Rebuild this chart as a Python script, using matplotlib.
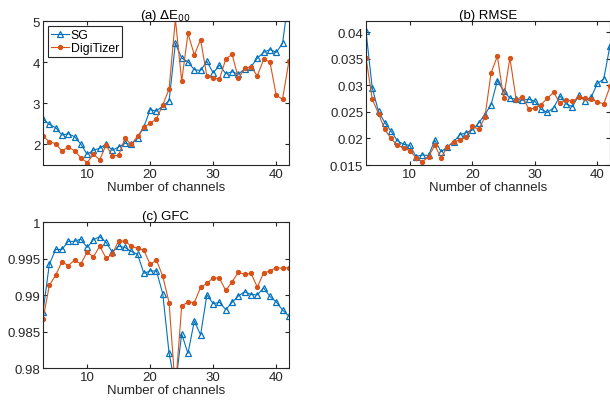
import numpy as np
import matplotlib
matplotlib.use("Agg")
import matplotlib.pyplot as plt

plt.rcParams["font.family"] = ["Liberation Sans", "DejaVu Sans"]
plt.rcParams["font.size"] = 9.5

channels = np.arange(3, 43)

# (a) Delta E00
de_sg = [2.62, 2.49, 2.41, 2.23, 2.26, 2.19, 2.01, 1.76, 1.86, 1.91,
         2.01, 1.86, 1.94, 2.03, 2.00, 2.15, 2.43, 2.85, 2.81, 2.94,
         3.06, 4.46, 4.10, 4.01, 3.82, 3.80, 4.02, 3.74, 3.93, 3.72,
         3.77, 3.71, 3.84, 3.89, 4.10, 4.24, 4.31, 4.24, 4.46, 5.6]
de_dig = [2.20, 2.07, 2.02, 1.84, 1.94, 1.85, 1.68, 1.56, 1.76, 1.63,
          1.99, 1.72, 1.74, 2.15, 2.00, 2.20, 2.42, 2.52, 2.62, 2.96,
          3.35, 5.05, 3.54, 4.70, 4.18, 4.55, 3.66, 3.62, 3.59, 4.08,
          4.19, 3.61, 3.85, 3.89, 3.67, 4.07, 4.01, 3.20, 3.10, 4.02]

# (b) RMSE
rmse_sg = [0.0402, 0.0295, 0.0251, 0.0230, 0.0214, 0.0196, 0.0189, 0.0187, 0.0166, 0.0169,
           0.0168, 0.0197, 0.0175, 0.0184, 0.0194, 0.0207, 0.0211, 0.0216, 0.0229, 0.0245,
           0.0264, 0.0309, 0.0289, 0.0276, 0.0274, 0.0272, 0.0274, 0.0270, 0.0255, 0.0249,
           0.0258, 0.0280, 0.0265, 0.0260, 0.0281, 0.0271, 0.0278, 0.0304, 0.0312, 0.0375]
rmse_dig = [0.0352, 0.0274, 0.0247, 0.0217, 0.0200, 0.0187, 0.0183, 0.0177, 0.0164, 0.0156,
            0.0166, 0.0187, 0.0164, 0.0184, 0.0194, 0.0197, 0.0203, 0.0223, 0.0217, 0.0240,
            0.0324, 0.0355, 0.0276, 0.0352, 0.0273, 0.0279, 0.0256, 0.0257, 0.0264, 0.0276,
            0.0287, 0.0266, 0.0273, 0.0270, 0.0278, 0.0276, 0.0274, 0.0269, 0.0265, 0.0298]

# (c) GFC
gfc_sg = [0.98767, 0.99420, 0.99624, 0.99624, 0.99735, 0.99735, 0.99767, 0.99652, 0.99758, 0.99800,
          0.99721, 0.99588, 0.99670, 0.99652, 0.99597, 0.99560, 0.99297, 0.99330, 0.99330, 0.99016,
          0.98205, 0.97750, 0.98468, 0.98200, 0.98643, 0.98454, 0.99002, 0.98882, 0.98900, 0.98800,
          0.98900, 0.98988, 0.99044, 0.99007, 0.99002, 0.99099, 0.98980, 0.98906, 0.98795, 0.98712]
gfc_dig = [0.98666, 0.99131, 0.99270, 0.99454, 0.99403, 0.99477, 0.99426, 0.99588, 0.99523, 0.99670,
           0.99505, 0.99560, 0.99744, 0.99735, 0.99670, 0.99638, 0.99615, 0.99420, 0.99477, 0.99256,
           0.98896, 0.97700, 0.98850, 0.98906, 0.98896, 0.99104, 0.99159, 0.99237, 0.99228, 0.99062,
           0.99182, 0.99311, 0.99283, 0.99297, 0.99108, 0.99302, 0.99330, 0.99376, 0.99366, 0.99376]

blue = "#0072BD"
orange = "#D95319"
axcol = "#262626"

fig = plt.figure(figsize=(6.1, 4.1), dpi=100)


def style_axes(ax, ylim, yticks, ylabels, title):
    ax.set_xlim(3, 42)
    ax.set_ylim(*ylim)
    ax.set_xticks([10, 20, 30, 40])
    ax.set_yticks(yticks)
    ax.set_yticklabels(ylabels)
    ax.tick_params(direction="in", top=True, right=True, length=3,
                   colors=axcol, labelsize=9.5, pad=2)
    for s in ax.spines.values():
        s.set_color(axcol)
        s.set_linewidth(0.8)
    ax.set_xlabel("Number of channels", color=axcol, labelpad=1)
    ax.set_title(title, color="black", fontsize=9.5, pad=2)


def draw(ax, y1, y2):
    ax.plot(channels, y1, color=blue, lw=0.8, marker="^", ms=5,
            mfc="none", mew=0.9, label="SG")
    ax.plot(channels, y2, color=orange, lw=0.8, marker="o", ms=2.8,
            mfc=orange, mec=orange, label="DigiTizer")


ax1 = fig.add_axes([0.0705, 0.595, 0.403, 0.351])
draw(ax1, de_sg, de_dig)
style_axes(ax1, (1.5, 5), [2, 3, 4, 5], ["2", "3", "4", "5"], r"(a) $\Delta$E$_{00}$")
leg = ax1.legend(loc="upper left", fontsize=8.8, handlelength=1.5, borderpad=0.25,
                 labelspacing=0.1, handletextpad=0.1, fancybox=False,
                 borderaxespad=0.4, framealpha=1)
leg.get_frame().set_edgecolor(axcol)
leg.get_frame().set_linewidth(0.8)

ax2 = fig.add_axes([0.600, 0.595, 0.400, 0.351])
draw(ax2, rmse_sg, rmse_dig)
style_axes(ax2, (0.015, 0.0421), [0.015, 0.02, 0.025, 0.03, 0.035, 0.04],
           ["0.015", "0.02", "0.025", "0.03", "0.035", "0.04"], "(b) RMSE")

ax3 = fig.add_axes([0.0705, 0.100, 0.403, 0.356])
draw(ax3, gfc_sg, gfc_dig)
style_axes(ax3, (0.98, 1.0), [0.98, 0.985, 0.99, 0.995, 1.0],
           ["0.98", "0.985", "0.99", "0.995", "1"], "(c) GFC")

fig.savefig("out.png", dpi=100)
